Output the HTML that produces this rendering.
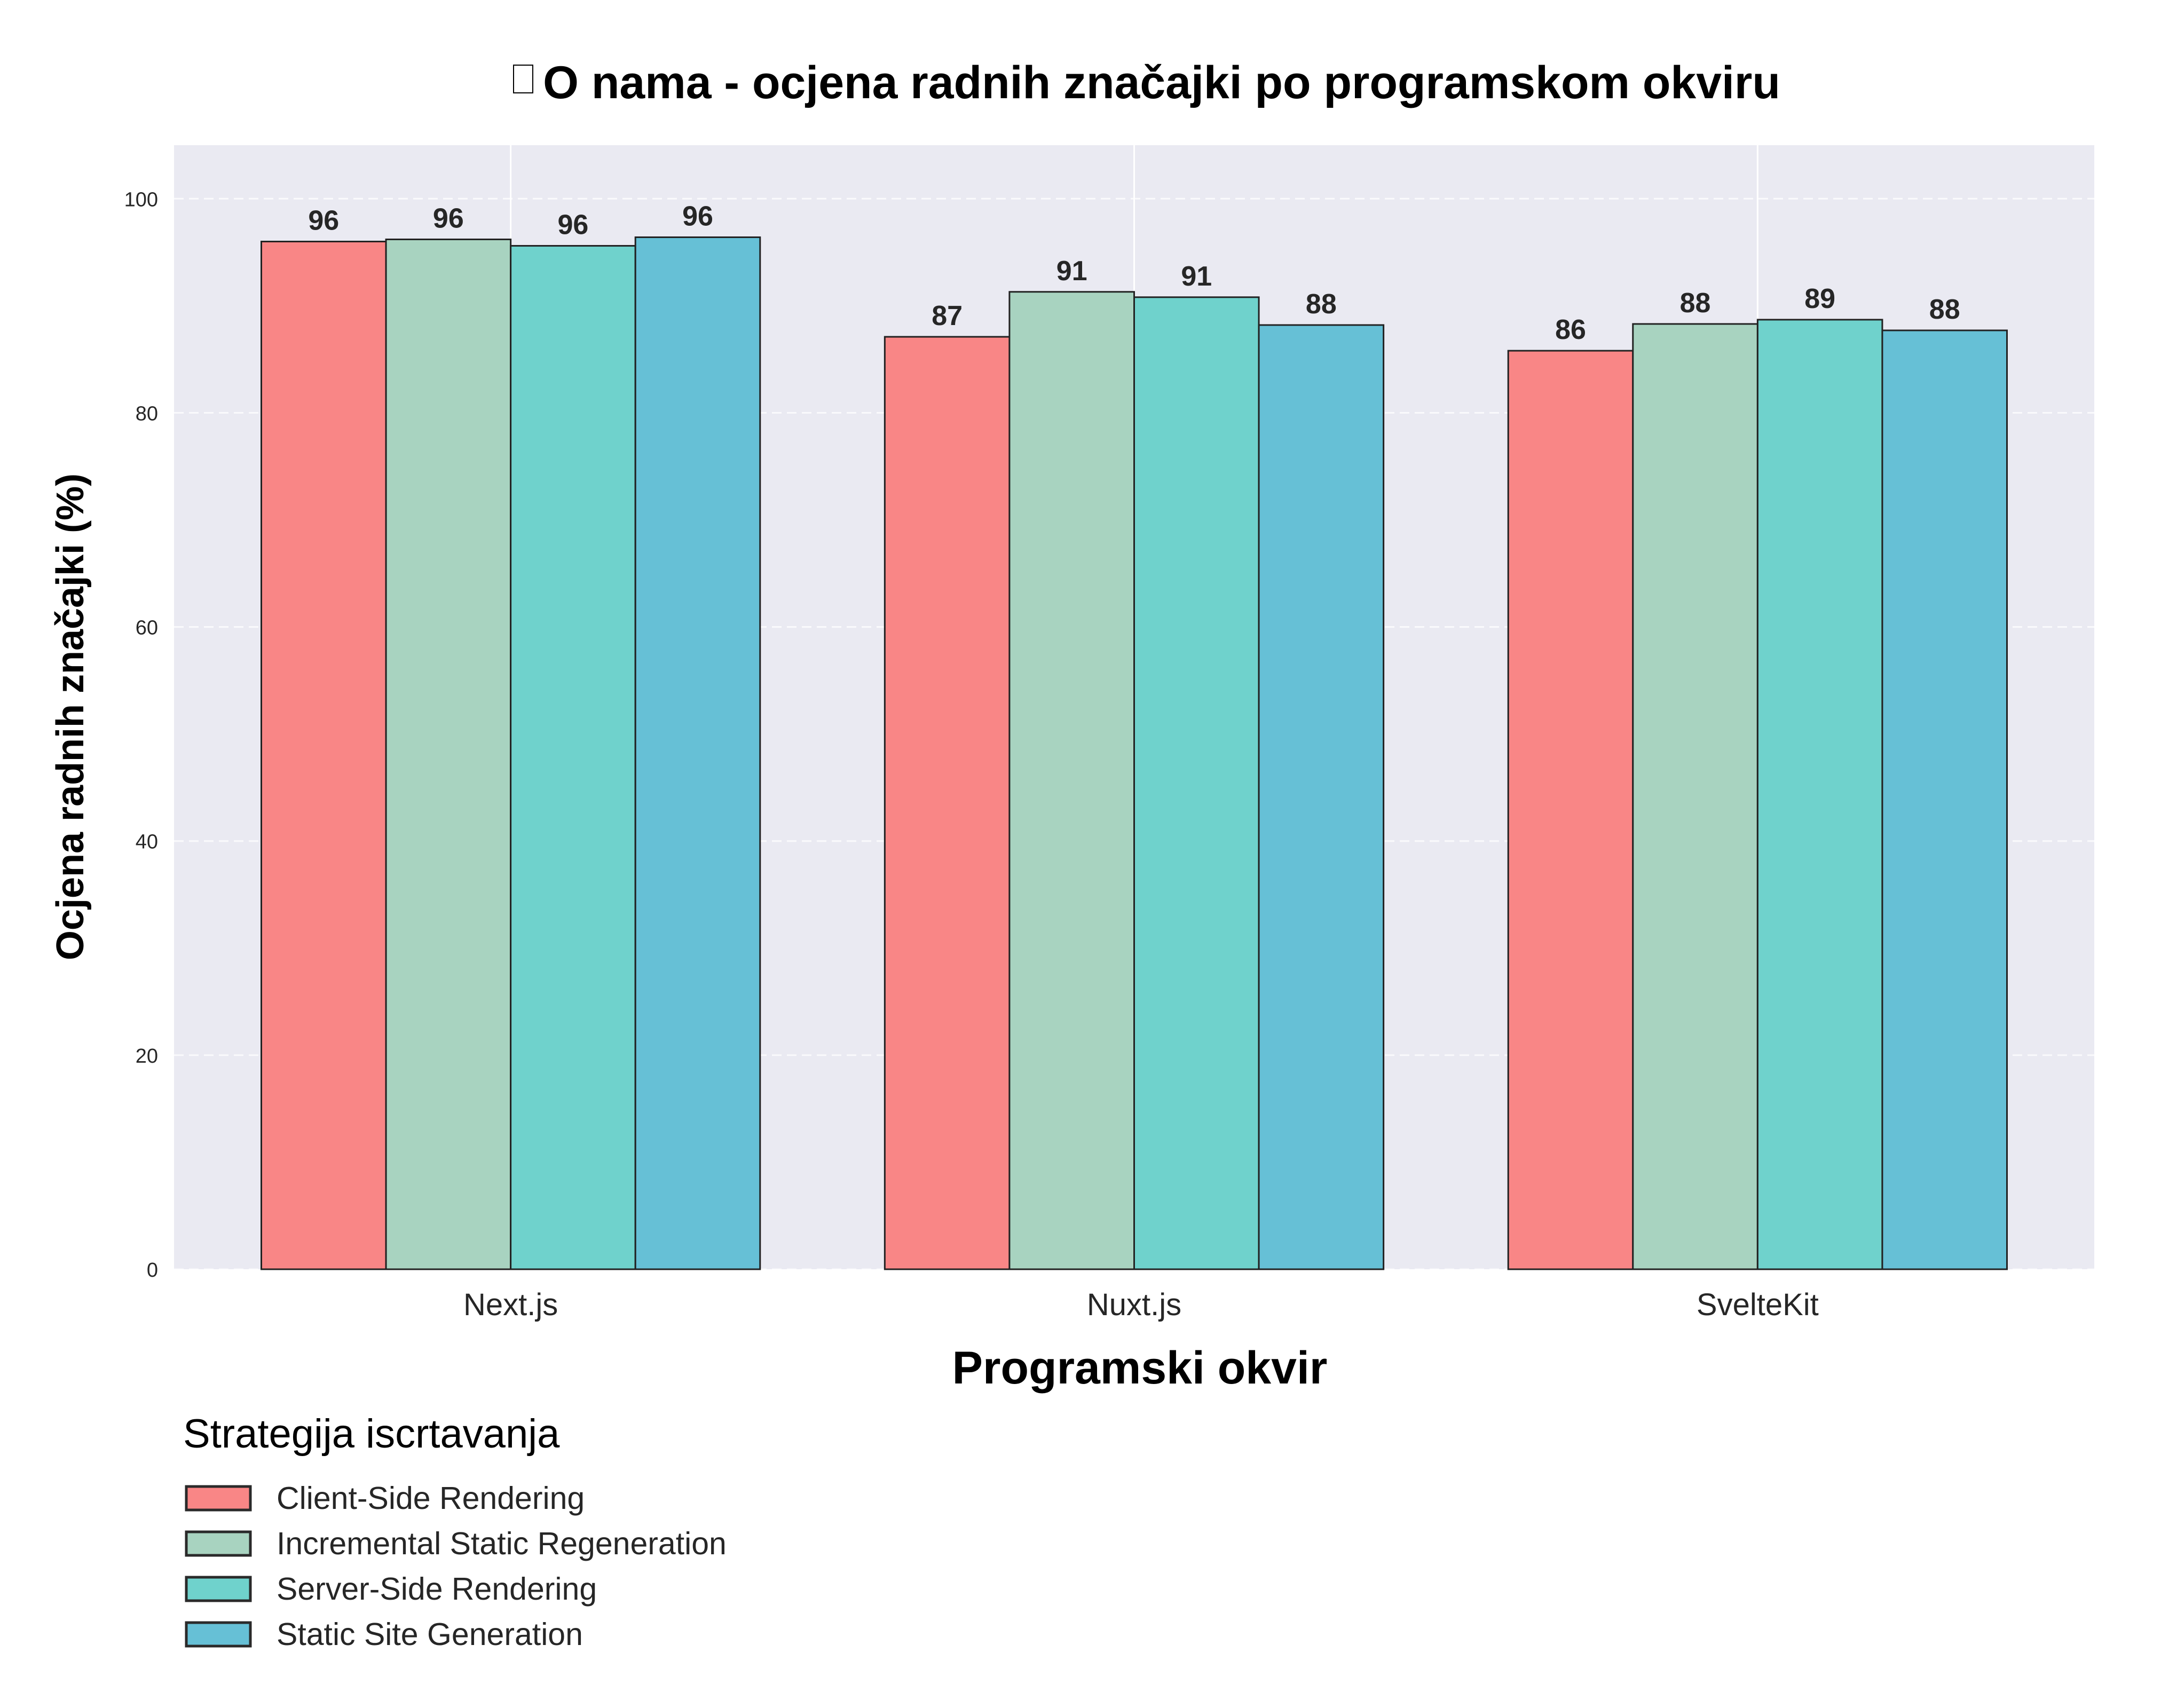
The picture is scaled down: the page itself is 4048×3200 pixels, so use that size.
<!DOCTYPE html>
<html><head><meta charset="utf-8"><style>
html,body{margin:0;padding:0;background:#fff;}
svg{display:block;}
text{font-family:"Liberation Sans",sans-serif;}
</style></head><body>
<svg id="chart" width="4048" height="3200" viewBox="0 0 4048 3200">
  <rect x="0" y="0" width="4048" height="3200" fill="#fff"/>
  <g>
    <rect x="962" y="122" width="36" height="52" fill="none" stroke="#000" stroke-width="2"/>
    <text x="2176" y="184" font-size="86" font-weight="bold" text-anchor="middle" fill="#000">O nama - ocjena radnih značajki po programskom okviru</text>
  </g>
  <rect id="plotbg" x="326" y="272" width="3597" height="2106" fill="#eaeaf2"/>
  <g id="grid"></g>
  <g id="bars"></g>
  <g id="labels"></g>
  <g id="yticks"></g>
  <g id="xticks"></g>
  <text x="2135" y="2592" font-size="86" font-weight="bold" text-anchor="middle" fill="#000">Programski okvir</text>
  <text transform="translate(156,1343) rotate(-90)" font-size="72" font-weight="bold" text-anchor="middle" fill="#000">Ocjena radnih značajki (%)</text>
  <g id="legend">
    <text x="343" y="2712" font-size="76" fill="#000">Strategija iscrtavanja</text>
  </g>
</svg>
<script>
const categories = ["Next.js", "Nuxt.js", "SvelteKit"];
const seriesNames = ["Client-Side Rendering", "Incremental Static Regeneration", "Server-Side Rendering", "Static Site Generation"];
const csrValues = [96.0, 87.1, 85.8];
const isrValues = [96.2, 91.3, 88.3];
const ssrValues = [95.6, 90.8, 88.7];
const ssgValues = [96.4, 88.2, 87.7];
const yTicks = [0, 20, 40, 60, 80, 100];
const colors = ["#f98686", "#a8d3c0", "#6fd2cc", "#66c0d6"];

const series = [csrValues, isrValues, ssrValues, ssgValues];
const NS = "http://www.w3.org/2000/svg";
const PL = 326, PR = 3923, PT = 272, PB = 2378;
const XMIN = -0.54, XMAX = 2.54, YMIN = 0, YMAX = 105;
function xs(v){ return PL + (v - XMIN) / (XMAX - XMIN) * (PR - PL); }
function ys(v){ return PB - (v - YMIN) / (YMAX - YMIN) * (PB - PT); }
function mk(tag, attrs, parent){
  const e = document.createElementNS(NS, tag);
  for (const k in attrs) e.setAttribute(k, attrs[k]);
  parent.appendChild(e);
  return e;
}
const grid = document.getElementById('grid');
yTicks.forEach(t => {
  const l = mk('line', {x1: PL, x2: PR, y1: ys(t), y2: ys(t), stroke: '#ffffff', 'stroke-width': 3, 'stroke-dasharray': '18 10', opacity: 0.8}, grid);
  
  
});
categories.forEach((c, i) => {
  const l = mk('line', {x1: xs(i), x2: xs(i), y1: PT, y2: PB, stroke: '#ffffff', 'stroke-width': 3}, grid);
  
  
});
const bars = document.getElementById('bars');
const labels = document.getElementById('labels');
const bw = 0.2;
series.forEach((vals, s) => {
  vals.forEach((v, i) => {
    const x0 = xs(i - 0.4 + s * bw), x1 = xs(i - 0.4 + (s + 1) * bw);
    const r = mk('rect', {x: x0, y: ys(v), width: x1 - x0, height: ys(0) - ys(v), fill: colors[s], stroke: '#222', 'stroke-width': 3}, bars);
    
    
    const t = mk('text', {x: (x0 + x1) / 2, y: ys(v) - 22, 'font-size': 52, 'font-weight': 'bold', 'text-anchor': 'middle', fill: '#262626'}, labels);
    t.textContent = Math.round(v);
    
    
  });
});
const yt = document.getElementById('yticks');
yTicks.forEach(t => {
  const e = mk('text', {x: 296, y: ys(t) + 14, 'font-size': 38, 'text-anchor': 'end', fill: '#262626', 'font-family': '"DejaVu Sans", sans-serif'}, yt);
  e.textContent = t;
  
  
});
const xt = document.getElementById('xticks');
categories.forEach((c, i) => {
  const e = mk('text', {x: xs(i), y: 2464, 'font-size': 58, 'text-anchor': 'middle', fill: '#262626'}, xt);
  e.textContent = c;
  
  
});
const lg = document.getElementById('legend');
seriesNames.forEach((n, s) => {
  const y = 2785 + s * 85;
  const r = mk('rect', {x: 349, y: y, width: 120, height: 44, fill: colors[s], stroke: '#2a2a2a', 'stroke-width': 5}, lg);
  
  
  const t = mk('text', {x: 518, y: y + 42, 'font-size': 59, fill: '#262626'}, lg);
  t.textContent = n;
  
  
});
</script>
</body></html>
